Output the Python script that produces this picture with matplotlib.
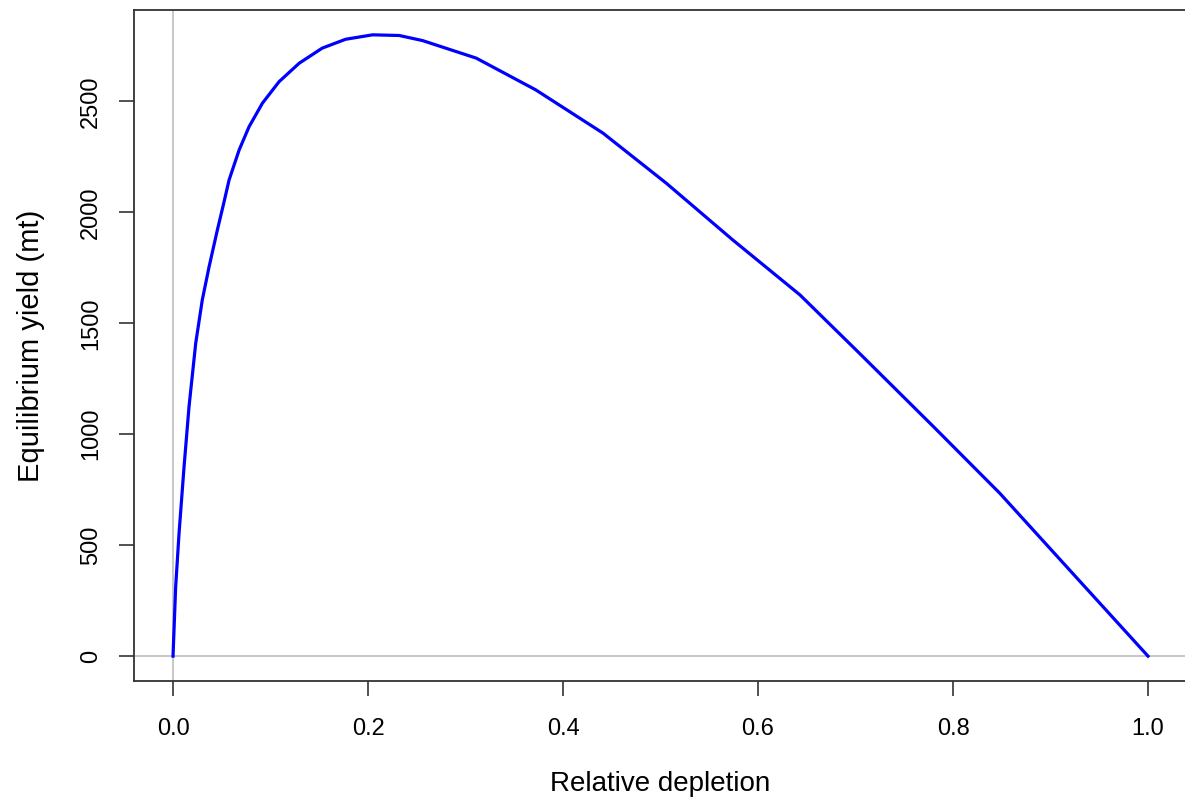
import matplotlib
matplotlib.use("Agg")
import matplotlib.pyplot as plt

# values
depletion = [0, 0.0027, 0.0062, 0.0113, 0.0164, 0.0233, 0.030, 0.037, 0.0455, 0.052,
             0.0575, 0.0678, 0.078, 0.0917, 0.1088, 0.1294, 0.153, 0.177, 0.2047,
             0.232, 0.256, 0.311, 0.372, 0.441, 0.506, 0.574, 0.643, 0.704, 0.78,
             0.848, 0.9165, 1.0]
eq_yield = [0, 312, 555, 853, 1124, 1411, 1605, 1755, 1921, 2041,
            2146, 2281, 2386, 2492, 2589, 2672, 2740, 2780, 2800,
            2797, 2774, 2695, 2552, 2357, 2131, 1876, 1628, 1365, 1034,
            734, 403, 0]
x_ticks = [0.0, 0.2, 0.4, 0.6, 0.8, 1.0]
y_ticks = [0, 500, 1000, 1500, 2000, 2500]

plt.rcParams['font.family'] = ['Liberation Sans', 'DejaVu Sans']

fig = plt.figure(figsize=(11.85, 8.11), dpi=100)
ax = fig.add_axes([0.1131, 0.1603, 0.8886, 0.8274])

# reference lines at zero
ax.axhline(0, color="#bebebe", lw=1.2, zorder=1)
ax.axvline(0, color="#bebebe", lw=1.2, zorder=1)

ax.plot(depletion, eq_yield, color="blue", lw=2.3, zorder=2)

ax.set_xlim(-0.04, 1.04)
ax.set_ylim(-112, 2912)
ax.set_xticks(x_ticks)
ax.set_xticklabels([f"{v:.1f}" for v in x_ticks])
ax.set_yticks(y_ticks)
ax.set_yticklabels([str(v) for v in y_ticks], rotation=90, va="center")

ax.tick_params(direction="out", length=11, width=1.2, color="#333333",
               labelsize=17)
ax.tick_params(axis="x", pad=16)
ax.tick_params(axis="y", pad=12)
for s in ax.spines.values():
    s.set_color("#333333")
    s.set_linewidth(1.3)

ax.set_xlabel("Relative depletion", fontsize=20, labelpad=22)
ax.set_ylabel("Equilibrium yield (mt)", fontsize=21, labelpad=25)

fig.savefig("out.png", dpi=100)
